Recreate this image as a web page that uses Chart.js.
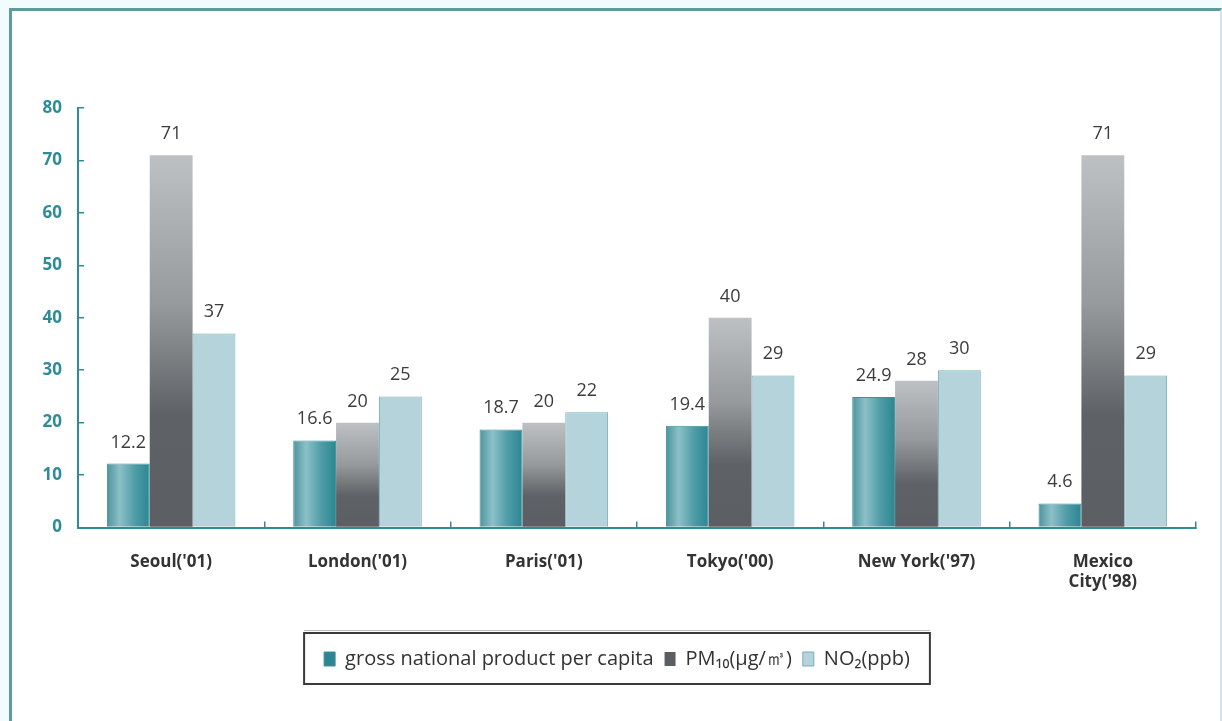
<!DOCTYPE html>
<html lang="en">
<head>
<meta charset="UTF-8">
<title>GNP per capita and air quality by city</title>
<script src="https://cdn.jsdelivr.net/npm/chart.js"></script>
<style>
  html, body { margin: 0; padding: 0; background: #f1fcfd; }
  .wrap { position: relative; width: 1222px; height: 721px; overflow: hidden; }
  .frame {
    position: absolute; left: 9px; top: 8px; width: 1208px; height: 720px;
    background: #ffffff;
    border-left: 3px solid #5f9aa0; border-top: 3px solid #5f9aa0;
    border-right: 2px solid #cbe7ea;
  }
  canvas { position: absolute; left: 0; top: 0; }
</style>
</head>
<body>
<div class="wrap">
  <div class="frame"></div>
  <canvas id="chart" width="1222" height="721"></canvas>
</div>
<script>
  const cities = ["Seoul('01)", "London('01)", "Paris('01)", "Tokyo('00)", "New York('97)", ["Mexico", "City('98)"]];
  const gnp = [12.2, 16.6, 18.7, 19.4, 24.9, 4.6];
  const pm10 = [71, 20, 20, 40, 28, 71];
  const no2 = [37, 25, 22, 29, 30, 29];
  const yTicks = [0, 10, 20, 30, 40, 50, 60, 70, 80];

  const TEAL = '#2f8c96';
  const BAR_SHARE = 0.69;

  // left/right pixel of one bar inside its category group
  function barSpan(chart, dataIndex, dsIndex) {
    const x = chart.scales.x;
    const groupW = (x.right - x.left) / cities.length;
    const w = groupW * BAR_SHARE / 3;
    const c = x.getPixelForValue(dataIndex) + (dsIndex - 1) * w;
    return [c - w / 2, c + w / 2];
  }

  function gnpFill(ctx) {
    if (ctx.type !== 'data' || !ctx.chart.chartArea) return '#4a9ca6';
    const [l, r] = barSpan(ctx.chart, ctx.dataIndex, 0);
    const g = ctx.chart.ctx.createLinearGradient(l, 0, r, 0);
    g.addColorStop(0, '#4b949d');
    g.addColorStop(0.3, '#8cc0c7');
    g.addColorStop(0.65, '#4f9da7');
    g.addColorStop(1, '#2b8692');
    return g;
  }

  function pmFill(ctx) {
    if (ctx.type !== 'data' || !ctx.chart.chartArea) return '#5f6266';
    const y = ctx.chart.scales.y;
    const top = y.getPixelForValue(pm10[ctx.dataIndex]);
    const bottom = y.getPixelForValue(0);
    const g = ctx.chart.ctx.createLinearGradient(0, top, 0, bottom);
    g.addColorStop(0, '#bdc1c3');
    g.addColorStop(0.4, '#979a9c');
    g.addColorStop(0.7, '#5e6165');
    g.addColorStop(1, '#5b5e62');
    return g;
  }

  // numbers above each bar
  const valueLabels = {
    id: 'valueLabels',
    afterDatasetsDraw(chart) {
      const c = chart.ctx;
      c.save();
      c.font = "18px 'Open Sans', sans-serif";
      c.fillStyle = '#3c3c3c';
      c.textAlign = 'center';
      c.textBaseline = 'alphabetic';
      chart.data.datasets.forEach((ds, i) => {
        chart.getDatasetMeta(i).data.forEach((bar, j) => {
          c.fillText(String(ds.data[j]), bar.x, bar.y - 16);
        });
      });
      c.restore();
    }
  };

  // outline round the legend row
  const legendFrame = {
    id: 'legendFrame',
    afterDraw(chart) {
      const boxes = chart.legend.legendHitBoxes;
      if (!boxes || !boxes.length) return;
      const left = Math.min(...boxes.map(b => b.left)) - 20;
      const right = Math.max(...boxes.map(b => b.left + b.width)) + 20;
      const mid = boxes[0].top + boxes[0].height / 2;
      const c = chart.ctx;
      c.save();
      c.strokeStyle = '#b9b9b9';
      c.lineWidth = 1;
      c.beginPath();
      c.moveTo(left, mid - 28.5);
      c.lineTo(right, mid - 28.5);
      c.stroke();
      c.strokeStyle = '#3a3a3a';
      c.lineWidth = 2;
      c.strokeRect(left, mid - 26, right - left, 51);
      c.restore();
    }
  };

  Chart.defaults.font.family = "'Open Sans', sans-serif";
  Chart.defaults.color = '#333';

  new Chart(document.getElementById('chart'), {
    type: 'bar',
    data: {
      labels: cities,
      datasets: [
        {
          label: 'gross national product per capita',
          data: gnp,
          backgroundColor: gnpFill,
          borderColor: '#3f8e98',
          borderWidth: 1
        },
        {
          label: 'PM\u2081\u2080(\u03bcg/\u33a5)',
          data: pm10,
          backgroundColor: pmFill,
          borderColor: 'rgba(0,0,0,0)',
          borderWidth: 0
        },
        {
          label: 'NO\u2082(ppb)',
          data: no2,
          backgroundColor: '#b5d3da',
          borderColor: '#79adb6',
          borderWidth: 1
        }
      ]
    },
    options: {
      responsive: false,
      animation: false,
      datasets: { bar: { categoryPercentage: BAR_SHARE, barPercentage: 1 } },
      layout: { padding: { top: 108, right: 26, left: 38, bottom: 42 } },
      scales: {
        x: {
          border: { color: TEAL, width: 2 },
          grid: { drawOnChartArea: false, color: TEAL, lineWidth: 1.5, tickLength: -6 },
          ticks: {
            color: '#333',
            padding: 30,
            font: { size: 17, weight: 'bold' },
            maxRotation: 0,
            autoSkip: false
          },
          afterFit(scale) { scale.height = 110.5; }
        },
        y: {
          min: 0,
          max: 80,
          afterBuildTicks(scale) { scale.ticks = yTicks.map(v => ({ value: v })); },
          border: { color: TEAL, width: 2 },
          grid: { drawOnChartArea: false, color: TEAL, lineWidth: 1.5, tickLength: -6 },
          ticks: {
            color: TEAL,
            padding: 22,
            font: { size: 17, weight: 'bold' }
          },
          afterFit(scale) { scale.width = 40; }
        }
      },
      plugins: {
        tooltip: { enabled: false },
        legend: {
          position: 'bottom',
          labels: {
            color: '#333',
            font: { size: 20 },
            boxWidth: 11,
            boxHeight: 14,
            padding: 11
          }
        }
      }
    },
    plugins: [valueLabels, legendFrame]
  });
</script>
</body>
</html>
